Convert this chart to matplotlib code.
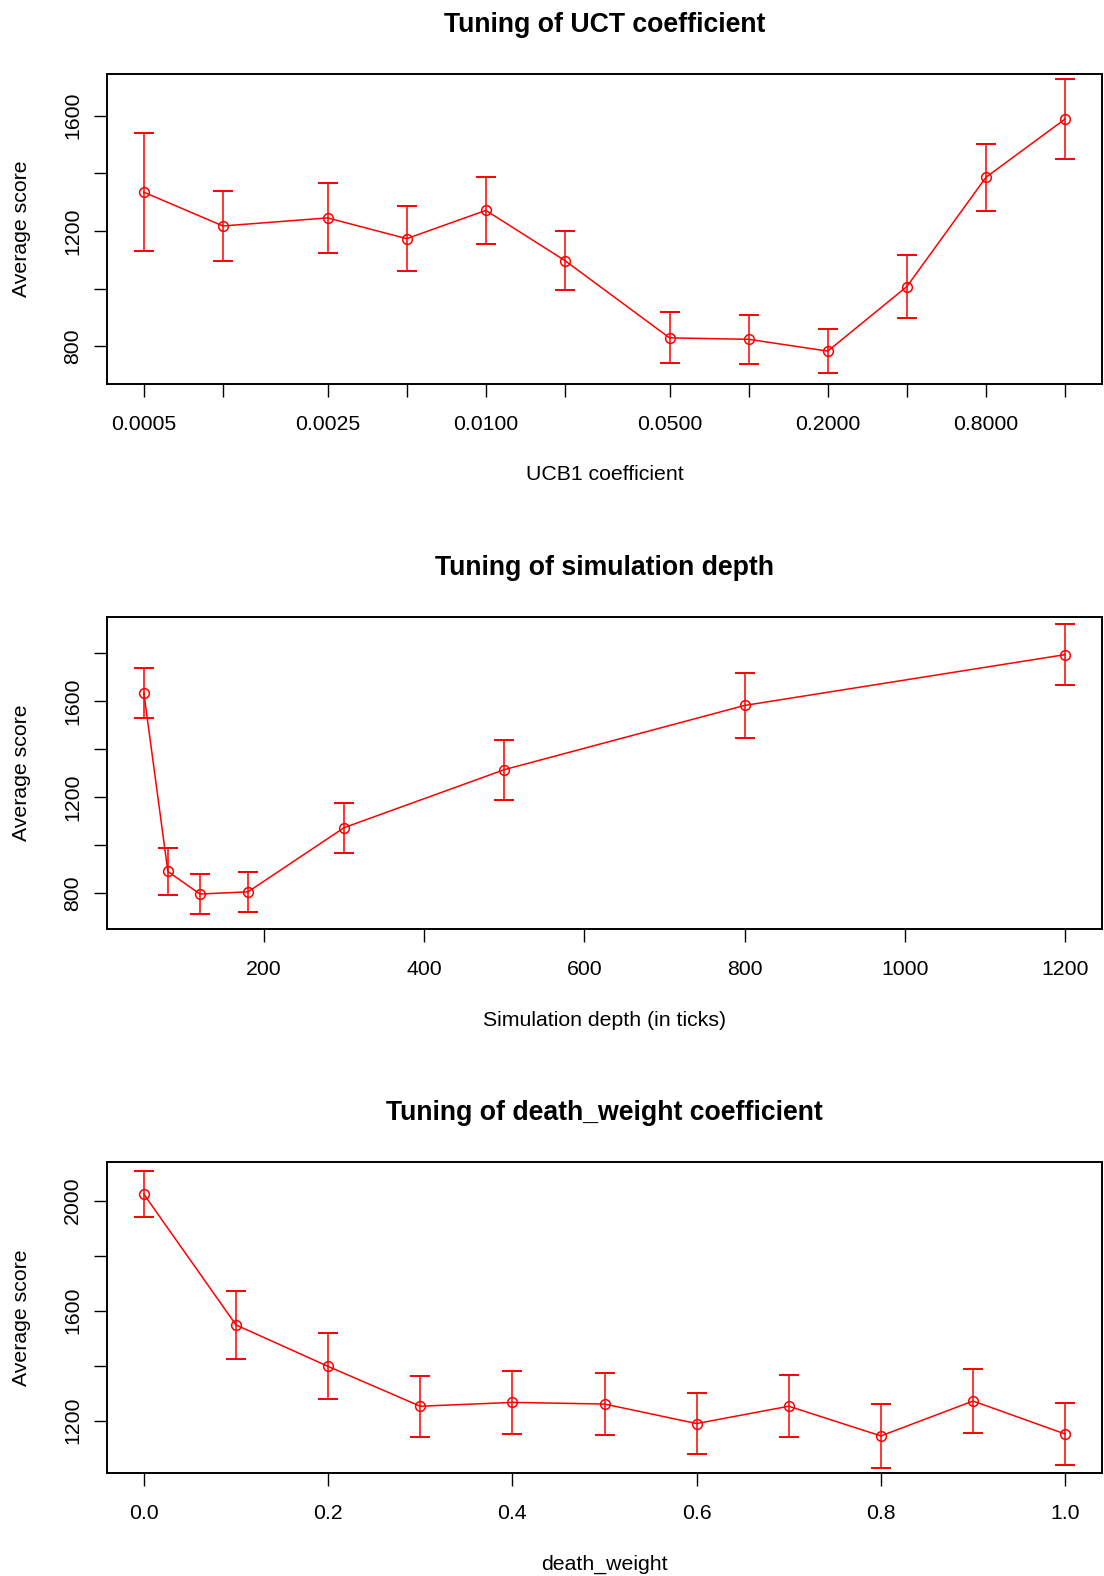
import matplotlib
matplotlib.use("Agg")
import matplotlib.pyplot as plt
import matplotlib.ticker as mticker

plt.rcParams["font.family"] = ["Liberation Sans", "DejaVu Sans"]

# UCT (UCB1) coefficient sweep
ucb_x = [0.0005, 0.001, 0.0025, 0.005, 0.01, 0.02, 0.05, 0.1, 0.2, 0.4, 0.8, 1.6]
ucb_mean = [1334, 1217, 1245, 1173, 1271, 1097, 829, 824, 783, 1007, 1386, 1588]
ucb_err = [205, 121, 122, 112, 117, 103, 88, 86, 77, 109, 116, 138]
ucb_labels = ["0.0005", "", "0.0025", "", "0.0100", "", "0.0500", "", "0.2000", "", "0.8000", ""]

# simulation depth sweep
depth_x = [50, 80, 120, 180, 300, 500, 800, 1200]
depth_mean = [1635, 890, 796, 805, 1073, 1315, 1583, 1795]
depth_err = [105, 99, 84, 82, 104, 125, 135, 127]

# death_weight sweep
dw_x = [0.0, 0.1, 0.2, 0.3, 0.4, 0.5, 0.6, 0.7, 0.8, 0.9, 1.0]
dw_mean = [2024, 1548, 1397, 1252, 1266, 1260, 1189, 1252, 1144, 1271, 1151]
dw_err = [84, 125, 120, 111, 114, 114, 110, 113, 117, 117, 114]

W, H = 1104, 1576
LEFT, RIGHT = 107, 1102
RED = "#ff0000"


#draws one panel in R-ish base graphics style
def panel(ax, x, mean, err, title, xlabel, ylim, yticks, ylabels, top_px, bot_px):
    ax.errorbar(x, mean, yerr=err, fmt="none", ecolor=RED, elinewidth=1.1,
                capsize=7, capthick=1.4)
    ax.plot(x, mean, color=RED, lw=1.1, marker="o", ms=7, mfc="none",
            mec=RED, mew=1.1)
    ax.set_ylim(*ylim)
    ax.set_yticks(yticks)
    ax.set_yticklabels(ylabels, rotation=90, va="center")
    ax.xaxis.set_minor_locator(mticker.NullLocator())
    ax.yaxis.set_minor_locator(mticker.NullLocator())
    for s in ax.spines.values():
        s.set_linewidth(1.4)
    ax.tick_params(direction="out", length=9.5, width=1.0, labelsize=15.3)
    ax.tick_params(axis="x", pad=13)
    ax.tick_params(axis="y", pad=8.5)

    h = bot_px - top_px
    ax.text(0.5, 1 + 49 / h, title, transform=ax.transAxes, ha="center",
            va="center", fontsize=19.2, fontweight="bold")
    ax.set_xlabel(xlabel, fontsize=15.3, va="center")
    ax.xaxis.set_label_coords(0.5, -91 / h)
    ax.set_ylabel("Average score", fontsize=15.3, va="center")
    ax.yaxis.set_label_coords(-85 / (RIGHT - LEFT), 0.5)


def add_axes(fig, top_px, bot_px):
    return fig.add_axes([LEFT / W, 1 - bot_px / H, (RIGHT - LEFT) / W, (bot_px - top_px) / H])


fig = plt.figure(figsize=(W / 100, H / 100), dpi=100)

#top panel: log x axis
ax1 = add_axes(fig, 74, 384)
ax1.set_xscale("log")
ax1.set_xlim(0.000362, 2.21)
ax1.set_xticks(ucb_x)
ax1.set_xticklabels(ucb_labels)
panel(ax1, ucb_x, ucb_mean, ucb_err, "Tuning of UCT coefficient", "UCB1 coefficient",
      (669, 1744), [800, 1000, 1200, 1400, 1600], ["800", "", "1200", "", "1600"], 74, 384)

#middle panel
ax2 = add_axes(fig, 617, 929)
ax2.set_xlim(4, 1246)
panel(ax2, depth_x, depth_mean, depth_err, "Tuning of simulation depth",
      "Simulation depth (in ticks)", (650, 1952),
      [800, 1000, 1200, 1400, 1600, 1800], ["800", "", "1200", "", "1600", ""], 617, 929)
ax2.set_xticks([200, 400, 600, 800, 1000, 1200])

#bottom panel
ax3 = add_axes(fig, 1162, 1473)
ax3.set_xlim(-0.04, 1.04)
panel(ax3, dw_x, dw_mean, dw_err, "Tuning of death_weight coefficient", "death_weight",
      (1009, 2141), [1200, 1400, 1600, 1800, 2000], ["1200", "", "1600", "", "2000"], 1162, 1473)
ax3.set_xticks([0.0, 0.2, 0.4, 0.6, 0.8, 1.0])
ax3.set_xticklabels(["0.0", "0.2", "0.4", "0.6", "0.8", "1.0"])

fig.savefig("out.png", dpi=100)
